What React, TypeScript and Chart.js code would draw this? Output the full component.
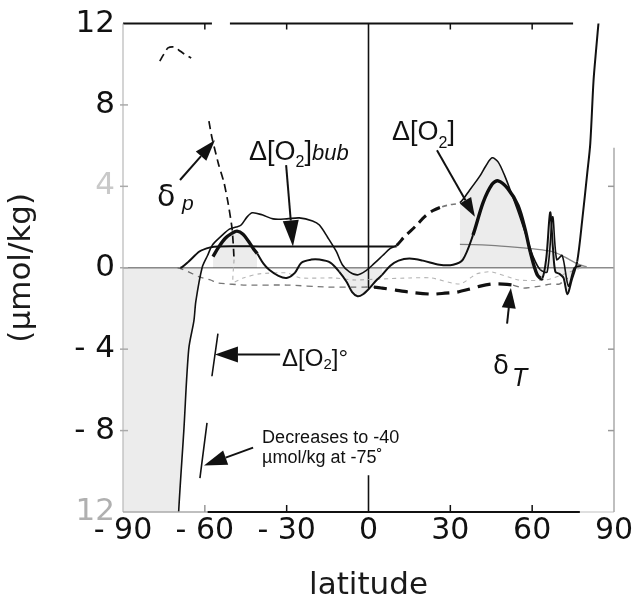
import React, { useEffect, useRef } from "react";
import { Chart, registerables } from "chart.js";

Chart.register(...registerables);

// ---------------- data (latitude, µmol/kg) ----------------
// total Δ[O2] (thin, shaded)
const TOTAL_LAT = [-90, -80, -76, -72, -69.6, -67.7, -65.9, -64, -63.3, -61, -59, -57.3, -54, -51, -48.5, -46.7, -44.5, -42.6, -39, -35, -30, -25.4, -20.5, -18, -15, -11.8, -9.6, -7, -4, -1, 2, 5.2, 8, 10.3, 13, 17.7, 20.5, 23.5, 27, 30, 33.5, 37, 40.8, 43, 45.3, 47.5, 50, 52, 55, 58, 60.5, 63, 65.5, 67.5, 69, 71, 73.3, 75.5, 78];
const TOTAL_VAL = [-40, -40, -40, -19, -12, -8, -4, -2.6, -1.65, 0, 0.6, 1.1, 1.55, 1.9, 2.0, 2.1, 2.5, 2.7, 2.6, 2.4, 2.4, 2.45, 2.3, 2.1, 1.5, 0.8, 0.15, -0.2, -0.35, -0.15, 0.2, 0.6, 0.95, 1.1, 1.5, 2.1, 2.5, 2.8, 3.0, 3.1, 3.2, 3.8, 4.5, 5.0, 5.4, 5.2, 4.5, 3.8, 2.7, 1.5, 0.5, -0.1, -0.2, 2.5, 0.4, 0.6, -0.9, 0.0, 0.1];

// Δ[O2]° (thick)
const O2_0_LAT = [-57, -55, -52.5, -50, -48.2, -46, -44, -42, -40.8, -38.5, -36.4, -33, -30, -27, -24.6, -21, -18, -14, -10.7, -8, -6, -4, -2, 0.4, 3, 5, 8, 11, 15, 20, 26, 31, 34.6, 38.3, 42, 45.3, 47.5, 51, 54.8, 57.4, 59.3, 61.8, 63.7, 65.2, 66.6, 67.6, 68.5, 70, 71.5, 72.9, 74.5, 76.5, 78.4, 80.2, 81.3, 82.5, 83.5, 84.5];
const O2_0_VAL = [0.55, 1.0, 1.45, 1.7, 1.8, 1.65, 1.3, 0.9, 0.7, 0.2, -0.1, -0.4, -0.5, -0.25, 0.25, 0.4, 0.4, 0.25, -0.2, -0.7, -1.2, -1.4, -1.3, -1.0, -0.6, -0.35, 0.1, 0.35, 0.45, 0.35, 0.15, 0.15, 0.4, 1.6, 3.2, 4.1, 4.27, 3.9, 3.06, 1.9, 0.78, -0.33, -0.53, 0.5, 2.72, 1.0, -0.2, -0.3, -0.5, -1.3, -0.6, 0.3, 2.4, 4.66, 6.1, 9.2, 10.8, 12.3];

// Δ[O2]° faded fragments in the south
const O2_0_FADED_LAT = [-61.8, -59.2, -58.3, -57.4, -55.2];
const O2_0_FADED_VAL = [-10.34, -7.62, null, -5.33, -3.24];

// Δ[O2]bub
const BUB_LAT = [-90, -69, -66, -62, -58, -55, -40, -20, 0, 10.3, 20, 33.5, 45, 54.5, 62, 67, 71, 73, 76.5, 80, 90];
const BUB_VAL = [0, 0, 0.3, 0.8, 1.0, 1.05, 1.05, 1.05, 1.05, 1.05, 1.1, 1.15, 1.1, 1.0, 0.9, 0.8, 0.6, 0.45, 0.2, 0.05, 0];

// δp
const DP_LAT = [-76.5, -75, -73.5, -71.4, -69.6, -67.5, -65, -62, -58.5, -57.4, -55, -53, -51.5, -50, -49.3, -49.6, -46, -40, -30, -25, -13, -5, 5, 15, 23, 33.5, 39.7, 45, 55, 65, 72, 78];
const DP_VAL = [10.15, 10.5, 10.8, 10.85, 10.7, 10.5, 10.3, null, 7.2, 6.4, 5.1, 4.2, 3.2, 1.9, 0.4, -0.7, -0.5, -0.3, -0.25, -0.5, -0.5, -0.6, -0.55, -0.5, -0.5, -0.8, -0.3, -0.2, -0.6, -0.6, -0.3, 0];

// δT
const DT_LAT = [-90, -70, -66, -62, -58, -55, -45, -30, -15, -5, 2, 5, 10, 15, 23.5, 28, 32.4, 37, 41, 45, 49.3, 53, 56.7, 63, 66.6, 70, 73, 76, 90];
const DT_VAL = [0, 0, -0.2, -0.45, -0.6, -0.75, -0.85, -0.85, -0.95, -0.95, -0.95, -1.0, -1.1, -1.2, -1.3, -1.25, -1.2, -1.05, -0.9, -0.8, -0.8, -0.85, -1.0, -0.9, -0.8, -0.8, -0.5, 0, 0];

// equator line
const EQ_LAT = [0, 0, 0, 0, 0];
const EQ_VAL = [12, -1.0, null, -10.2, -12];

// axes
const X_TICKS = [-90, -60, -30, 0, 30, 60, 90];
const X_TICK_LABELS = ["- 90", "- 60", "- 30", "0", "30", "60", "90"];
const Y_TICKS = [12, 8, 4, 0, -4, -8, -12];
const Y_TICK_LABELS = ["12", "8", "4", "0", "- 4", "- 8", "12"];
const Y_TICK_COLORS = ["#111", "#111", "#c9c9c9", "#111", "#111", "#111", "#b0b0b0"];

// shaded / styled ranges (latitude)
const TOTAL_SHADE = [[-90, -61], [33.5, 62]];
const O2_0_SHADE = [[-57, -40.8], [-10.7, 5], [59.3, 76.5]];
const TOTAL_DASH = [[10.3, 27]];
const TOTAL_DASH_THIN = [[27, 33.5]];
const O2_0_THICK = [[-57, -40.8], [38.3, 63.7]];
const BUB_BLACK = [[-69, 10.3]];
const BUB_GREY = [[33.5, 80]];
const DP_MAIN = [[-80, -49.5]];
const DT_THICK = [[2, 54]];
const DT_THIN = [[-70, 2], [54, 73]];

const SHADE = "rgba(0,0,0,0.075)";

const pts = (xs: number[], ys: (number | null)[]) => xs.map((x, i) => ({ x, y: ys[i] }));
const inR = (v: number, rs: number[][]) => rs.some(([a, b]) => v >= a && v < b);
const mid = (c: any) => (c.p0.parsed.x + c.p1.parsed.x) / 2;

const DEJAVU = '"DejaVu Sans", sans-serif';
const LIB = '"Liberation Sans", Arial, sans-serif';

const annotations = {
  id: "annotations",
  afterDatasetsDraw(chart: any) {
    const { ctx } = chart;
    const xs = chart.scales.x;
    const ys = chart.scales.y;
    const X = (v: number) => xs.getPixelForValue(v);
    const Y = (v: number) => ys.getPixelForValue(v);
    ctx.save();
    const seg = (a: number[], b: number[], color: string, w: number) => {
      ctx.beginPath();
      ctx.strokeStyle = color;
      ctx.lineWidth = w;
      ctx.moveTo(X(a[0]), Y(a[1]));
      ctx.lineTo(X(b[0]), Y(b[1]));
      ctx.stroke();
    };
    // frame
    seg([-90, 12], [-57.4, 12], "#111", 2);
    seg([-50.8, 12], [75, 12], "#111", 2);
    seg([-90, 12], [-90, -12], "#b8b8b8", 1.2);
    seg([-90, -12], [-59, -12], "#aaa", 1.5);
    seg([-59, -12], [77.5, -12], "#111", 2);
    seg([77.5, -12], [90, -12], "#c0c0c0", 1.2);
    seg([90, 5.9], [90, -12], "#aaa", 1.5);
    // tick marks
    const tick = (px: number, py: number, dx: number, dy: number, color: string) => {
      ctx.beginPath();
      ctx.strokeStyle = color;
      ctx.lineWidth = 1.5;
      ctx.moveTo(px, py);
      ctx.lineTo(px + dx, py + dy);
      ctx.stroke();
    };
    [-60, -30, 30, 60].forEach((v) => tick(X(v), Y(12), 0, 6, "#111"));
    [-60, -30, 30, 60].forEach((v) => tick(X(v), Y(-12), 0, -7, v === -60 ? "#999" : "#111"));
    [8, 4, 0, -4, -8].forEach((v) => tick(X(-90) - 3, Y(v), 8, 0, "#aaa"));
    [4, -4, -8].forEach((v) => tick(X(90), Y(v), -6, 0, "#999"));

    // arrows
    const arrow = (a: number[], b: number[], head = 21, half = 7) => {
      const x1 = X(a[0]), y1 = Y(a[1]), x2 = X(b[0]), y2 = Y(b[1]);
      const ang = Math.atan2(y2 - y1, x2 - x1);
      const bx = x2 - head * Math.cos(ang), by = y2 - head * Math.sin(ang);
      ctx.beginPath();
      ctx.strokeStyle = "#111";
      ctx.lineWidth = 2;
      ctx.moveTo(x1, y1);
      ctx.lineTo(bx, by);
      ctx.stroke();
      ctx.beginPath();
      ctx.fillStyle = "#111";
      ctx.moveTo(x2, y2);
      ctx.lineTo(bx + half * Math.sin(ang), by - half * Math.cos(ang));
      ctx.lineTo(bx - half * Math.sin(ang), by + half * Math.cos(ang));
      ctx.closePath();
      ctx.fill();
    };
    arrow([-69.1, 4.31], [-56.3, 6.26]);
    arrow([-30.2, 5.04], [-27.7, 1.05], 26, 8);
    arrow([25.1, 5.77], [39.0, 2.51], 19, 6.5);
    arrow([50.8, -2.75], [52.2, -1.0], 20, 7);
    arrow([-32.4, -4.26], [-56.3, -4.26], 23, 8);
    arrow([-42.3, -8.84], [-60.3, -9.71], 23, 7.5);

    // text
    ctx.fillStyle = "#111";
    ctx.textBaseline = "alphabetic";
    ctx.textAlign = "left";
    const runs = (lat: number, v: number, parts: [string, string, number][]) => {
      let cx = X(lat);
      const by = Y(v);
      for (const [t, f, dy] of parts) {
        ctx.font = f;
        ctx.fillText(t, cx, by + dy);
        cx += ctx.measureText(t).width;
      }
    };
    runs(-77.5, 3.04, [["δ", `30px ${DEJAVU}`, 0]]);
    runs(-68.4, 2.85, [["p", `italic 21px ${LIB}`, 0]]);
    runs(-43.8, 5.28, [
      ["Δ[O", `27px ${LIB}`, 0],
      ["2", `16px ${LIB}`, 7],
      ["]", `27px ${LIB}`, 0],
      ["bub", `italic 22px ${LIB}`, 0],
    ]);
    runs(8.6, 6.3, [
      ["Δ[O", `27px ${LIB}`, 0],
      ["2", `16px ${LIB}`, 8],
      ["]", `27px ${LIB}`, 0],
    ]);
    runs(45.6, -5.23, [["δ", `26px ${DEJAVU}`, 0]]);
    runs(52.6, -5.82, [["T", `italic 25px ${LIB}`, 0]]);
    runs(-31.7, -4.84, [
      ["Δ[O", `24px ${LIB}`, 0],
      ["2", `15px ${LIB}`, 3],
      ["]°", `24px ${LIB}`, 0],
    ]);
    runs(-39.0, -8.59, [["Decreases to -40", `18px ${LIB}`, 0]]);
    runs(-39.0, -9.61, [["µmol/kg at -75˚", `18px ${LIB}`, 0]]);
    ctx.restore();
  },
};

export default function App() {
  const ref = useRef<HTMLCanvasElement | null>(null);
  useEffect(() => {
    if (!ref.current) return;
    const chart = new Chart(ref.current, {
      type: "line",
      data: {
        datasets: [
          {
            label: "Δ[O2]",
            data: pts(TOTAL_LAT, TOTAL_VAL),
            borderColor: "#111",
            borderWidth: 1.6,
            tension: 0.3,
            fill: "origin",
            backgroundColor: "transparent",
            segment: {
              borderDash: (c: any) => (inR(mid(c), TOTAL_DASH) ? [10, 6] : inR(mid(c), TOTAL_DASH_THIN) ? [5, 4] : undefined),
              borderWidth: (c: any) => (inR(mid(c), TOTAL_DASH) ? 3 : 1.6),
              borderColor: (c: any) => (inR(mid(c), TOTAL_DASH_THIN) ? "#777" : "#111"),
              backgroundColor: (c: any) => (inR(mid(c), TOTAL_SHADE) ? SHADE : "transparent"),
            },
          } as any,
          {
            label: "Δ[O2]°",
            data: pts(O2_0_LAT, O2_0_VAL),
            borderColor: "#111",
            borderWidth: 2,
            tension: 0.3,
            fill: "origin",
            backgroundColor: "transparent",
            segment: {
              borderWidth: (c: any) => (inR(mid(c), O2_0_THICK) ? 3.4 : 2),
              backgroundColor: (c: any) => (inR(mid(c), O2_0_SHADE) ? SHADE : "transparent"),
            },
          } as any,
          {
            label: "Δ[O2]° faded",
            data: pts(O2_0_FADED_LAT, O2_0_FADED_VAL),
            borderColor: "#111",
            borderWidth: 1.6,
            spanGaps: false,
          },
          {
            label: "Δ[O2]bub",
            data: pts(BUB_LAT, BUB_VAL),
            borderColor: "#111",
            borderWidth: 2,
            tension: 0.2,
            segment: {
              borderColor: (c: any) => (inR(mid(c), BUB_BLACK) ? "#111" : inR(mid(c), BUB_GREY) ? "#8a8a8a" : "transparent"),
              borderWidth: (c: any) => (inR(mid(c), BUB_BLACK) ? 2 : 1.3),
            },
          } as any,
          {
            label: "δp",
            data: pts(DP_LAT, DP_VAL),
            borderColor: "#111",
            borderWidth: 1.6,
            borderDash: [7, 5],
            tension: 0.2,
            spanGaps: false,
            segment: {
              borderColor: (c: any) => (inR(mid(c), DP_MAIN) ? "#111" : "#b5b5b5"),
              borderWidth: (c: any) => (inR(mid(c), DP_MAIN) ? 1.7 : 1.1),
              borderDash: (c: any) => (inR(mid(c), DP_MAIN) ? [8, 5] : [4, 4]),
            },
          } as any,
          {
            label: "δT",
            data: pts(DT_LAT, DT_VAL),
            borderColor: "#111",
            borderWidth: 1.2,
            tension: 0.2,
            segment: {
              borderColor: (c: any) => (inR(mid(c), DT_THICK) ? "#111" : inR(mid(c), DT_THIN) ? "#777" : "transparent"),
              borderWidth: (c: any) => (inR(mid(c), DT_THICK) ? 3.2 : 1.3),
              borderDash: (c: any) => (inR(mid(c), DT_THICK) ? [13, 8] : [6, 5]),
            },
          } as any,
          {
            label: "equator",
            data: pts(EQ_LAT, EQ_VAL),
            borderColor: "#111",
            borderWidth: 1.6,
            spanGaps: false,
          },
        ],
      },
      options: {
        animation: false,
        responsive: false,
        devicePixelRatio: 1,
        parsing: true,
        elements: { point: { radius: 0, hoverRadius: 0 } },
        layout: { padding: { left: 0, top: 19, right: 25, bottom: 0 } },
        plugins: { legend: { display: false }, tooltip: { enabled: false } },
        scales: {
          x: {
            type: "linear",
            min: -90,
            max: 90,
            afterFit: (s: any) => {
              s.height = 89;
            },
            afterBuildTicks: (s: any) => {
              s.ticks = X_TICKS.map((v) => ({ value: v }));
            },
            border: { display: false },
            grid: { display: false, drawTicks: false },
            ticks: {
              padding: 4,
              maxRotation: 0,
              autoSkip: false,
              color: "#111",
              font: { family: DEJAVU, size: 30, lineHeight: 1 },
              callback: (v: any) => {
                const i = X_TICKS.indexOf(Number(v));
                return i >= 0 ? X_TICK_LABELS[i] : "";
              },
            },
            title: {
              display: true,
              text: "latitude",
              color: "#1a1a1a",
              font: { family: DEJAVU, size: 31, lineHeight: 1 },
              padding: { top: 0, bottom: 0 },
            },
          },
          y: {
            type: "linear",
            min: -12,
            max: 12,
            afterFit: (s: any) => {
              s.width = 123;
            },
            afterBuildTicks: (s: any) => {
              s.ticks = Y_TICKS.map((v) => ({ value: v }));
            },
            border: { display: false },
            grid: {
              drawTicks: false,
              color: (c: any) => (c.tick && c.tick.value === 0 ? "#8c8c8c" : "transparent"),
              lineWidth: 1.5,
            },
            ticks: {
              padding: 8,
              autoSkip: false,
              color: (c: any) => {
                const i = Y_TICKS.indexOf(c.tick ? c.tick.value : NaN);
                return i >= 0 ? Y_TICK_COLORS[i] : "#111";
              },
              font: { family: DEJAVU, size: 31, lineHeight: 1 },
              callback: (v: any) => {
                const i = Y_TICKS.indexOf(Number(v));
                return i >= 0 ? Y_TICK_LABELS[i] : "";
              },
            },
            title: {
              display: true,
              text: "(µmol/kg)",
              color: "#1a1a1a",
              font: { family: DEJAVU, size: 31, lineHeight: 1 },
              padding: { top: 6, bottom: 0 },
            },
          },
        },
      },
      plugins: [annotations],
    } as any);
    return () => chart.destroy();
  }, []);
  return (
    <div style={{ position: "fixed", left: 0, top: 0, width: 639, height: 601, background: "#fff" }}>
      <canvas ref={ref} width={639} height={601} style={{ display: "block", width: 639, height: 601 }} />
    </div>
  );
}
